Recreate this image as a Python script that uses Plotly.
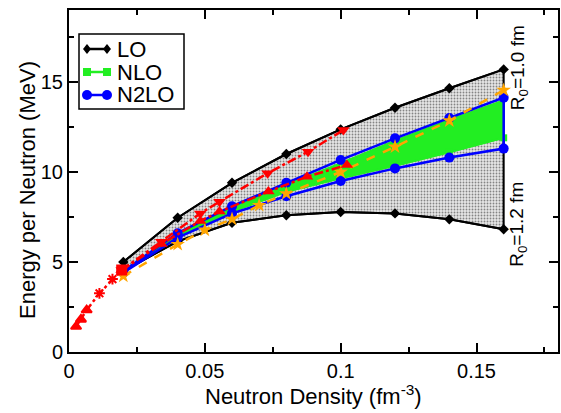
import plotly.graph_objects as go

# ---------------- data ----------------
density = [0.02, 0.04, 0.06, 0.08, 0.10, 0.12, 0.14, 0.16]

lo_upper = [5.0, 7.46, 9.4, 11.0, 12.37, 13.57, 14.65, 15.7]   # R0 = 1.0 fm
lo_lower = [4.5, 6.15, 7.18, 7.6, 7.78, 7.7, 7.37, 6.82]      # R0 = 1.2 fm

nlo_upper = [4.5, 6.55, 8.0, 9.3, 10.5, 11.75, 12.9, 14.0]
nlo_lower = [4.45, 6.4, 7.8, 8.9, 9.65, 10.35, 11.1, 11.9]

n2lo_upper = [4.5, 6.6, 8.1, 9.4, 10.67, 11.87, 13.0, 14.13]
n2lo_lower = [4.4, 6.35, 7.7, 8.65, 9.5, 10.2, 10.8, 11.3]

orange_x = [0.02, 0.04, 0.05, 0.06, 0.07, 0.08, 0.10, 0.12, 0.14, 0.16]
orange_y = [4.22, 5.98, 6.78, 7.38, 8.15, 8.8, 10.0, 11.4, 12.85, 14.55]

red_low_x = [0.0026, 0.0044, 0.0065, 0.0112, 0.016, 0.0194]
red_low_y = [1.41, 1.81, 2.33, 3.26, 4.05, 4.55]
red_low_sym = ["triangle-up", "triangle-up", "triangle-up", "asterisk-open", "asterisk-open", "square"]

red_up_x = [0.0194, 0.034, 0.0483, 0.0554, 0.0731, 0.088, 0.101]
red_up_y = [4.55, 6.13, 7.7, 8.35, 9.93, 11.13, 12.33]

red_dn_x = [0.0194, 0.034, 0.0483, 0.0554, 0.0734, 0.0876, 0.1023]
red_dn_y = [4.55, 6.0, 7.28, 7.8, 8.91, 9.74, 10.39]

x_ticks = [0, 0.05, 0.1, 0.15]
x_tick_text = ["0", "0.05", "0.1", "0.15"]
y_ticks = [0, 5, 10, 15]
y_tick_text = ["0", "5", "10", "15"]

legend_names = ["LO", "NLO", "N2LO"]
legend_colors = ["black", "#22ee22", "blue"]
legend_symbols = ["diamond", "square", "circle"]

# ---------------- figure ----------------
W, H = 561, 413
ML, MR, MT, MB = 69, 3, 10, 61
PW, PH = W - ML - MR, H - MT - MB


def px2paper(px, py):
    return (px - ML) / PW, (H - MB - py) / PH


fig = go.Figure()

# LO band (grey stipple) with black outline
fig.add_trace(go.Scatter(
    x=density + density[::-1], y=lo_upper + lo_lower[::-1],
    mode="lines", fill="toself",
    fillcolor="rgba(0,0,0,0)",
    fillpattern=dict(shape=".", fgcolor="#222222", bgcolor="#e6e6e6", size=3, solidity=0.3),
    line=dict(color="black", width=2), showlegend=False, hoverinfo="skip"))

# LO markers
for yy in (lo_upper, lo_lower):
    fig.add_trace(go.Scatter(x=density, y=yy, mode="lines+markers", showlegend=False,
                             line=dict(color="black", width=2),
                             marker=dict(symbol="diamond", size=8, color="black")))

# NLO band (green)
fig.add_trace(go.Scatter(
    x=density + density[::-1], y=nlo_upper + nlo_lower[::-1],
    mode="lines", fill="toself", fillcolor="#22ee22",
    line=dict(color="#22ee22", width=1.5), showlegend=False, hoverinfo="skip"))
fig.add_trace(go.Scatter(x=density, y=nlo_lower, mode="lines+markers", showlegend=False,
                         line=dict(color="#22ee22", width=2),
                         marker=dict(symbol="square", size=7, color="#22ee22")))

# N2LO outline (blue)
fig.add_trace(go.Scatter(
    x=density + density[::-1], y=n2lo_upper + n2lo_lower[::-1],
    mode="lines", line=dict(color="blue", width=2.5), showlegend=False, hoverinfo="skip"))
for yy in (n2lo_upper, n2lo_lower):
    fig.add_trace(go.Scatter(x=density, y=yy, mode="markers", showlegend=False,
                             marker=dict(symbol="circle", size=10, color="blue")))

# orange dashed
fig.add_trace(go.Scatter(x=orange_x, y=orange_y, mode="lines+markers", showlegend=False,
                         line=dict(color="orange", width=2.5, dash="dash"),
                         marker=dict(symbol="star", size=11, color="orange")))

# red dash-dot series
fig.add_trace(go.Scatter(x=red_low_x, y=red_low_y, mode="lines+markers", showlegend=False,
                         line=dict(color="red", width=2.5, dash="dashdot"),
                         marker=dict(symbol=red_low_sym, size=9, color="red",
                                     line=dict(color="red", width=2))))
fig.add_trace(go.Scatter(x=red_up_x, y=red_up_y, mode="lines+markers", showlegend=False,
                         line=dict(color="red", width=2.5, dash="dashdot"),
                         marker=dict(symbol="triangle-down", size=11, color="red")))
fig.add_trace(go.Scatter(x=red_dn_x, y=red_dn_y, mode="lines+markers", showlegend=False,
                         line=dict(color="red", width=2.5, dash="dashdot"),
                         marker=dict(symbol="triangle-up", size=11, color="red")))

font = "Liberation Sans, Arial, sans-serif"

fig.add_annotation(x=0.1655, y=15.8, text="R<sub>0</sub>=1.0 fm", showarrow=False,
                   textangle=-90, font=dict(size=19, color="black", family=font))
fig.add_annotation(x=0.1655, y=7.1, text="R<sub>0</sub>=1.2 fm", showarrow=False,
                   textangle=-90, font=dict(size=19, color="black", family=font))

# axis titles
tx, ty = px2paper(313, 395)
fig.add_annotation(xref="paper", yref="paper", x=tx, y=ty, xanchor="center", yanchor="middle",
                   text="Neutron Density (fm<sup>-3</sup>)", showarrow=False,
                   font=dict(size=22, color="black", family=font))
tx, ty = px2paper(27, 190)
fig.add_annotation(xref="paper", yref="paper", x=tx, y=ty, xanchor="center", yanchor="middle",
                   text="Energy per Neutron (MeV)", showarrow=False, textangle=-90,
                   font=dict(size=22, color="black", family=font))

# ---- legend drawn as a framed box ----
x0, y0 = px2paper(79, 34)
x1, y1 = px2paper(184, 109)
fig.add_shape(type="rect", xref="paper", yref="paper", x0=x0, y0=y0, x1=x1, y1=y1,
              line=dict(color="black", width=1.5), fillcolor="white", layer="above")
for i, (name, col, sym) in enumerate(zip(legend_names, legend_colors, legend_symbols)):
    cy = 49 + 23 * i
    lx0, ly = px2paper(87, cy)
    lx1, _ = px2paper(107, cy)
    fig.add_shape(type="line", xref="paper", yref="paper", x0=lx0, y0=ly, x1=lx1, y1=ly,
                  line=dict(color=col, width=2.5), layer="above")
    for mx in (87, 107):
        if sym == "circle":
            a0, b0 = px2paper(mx - 5, cy - 5)
            a1, b1 = px2paper(mx + 5, cy + 5)
            fig.add_shape(type="circle", xref="paper", yref="paper", x0=a0, y0=b0, x1=a1, y1=b1,
                          fillcolor=col, line=dict(color=col, width=0), layer="above")
        elif sym == "square":
            a0, b0 = px2paper(mx - 4, cy - 4)
            a1, b1 = px2paper(mx + 4, cy + 4)
            fig.add_shape(type="rect", xref="paper", yref="paper", x0=a0, y0=b0, x1=a1, y1=b1,
                          fillcolor=col, line=dict(color=col, width=0), layer="above")
        else:
            pts = [px2paper(mx, cy - 5), px2paper(mx + 4, cy), px2paper(mx, cy + 5), px2paper(mx - 4, cy)]
            path = "M " + " L ".join(f"{a},{b}" for a, b in pts) + " Z"
            fig.add_shape(type="path", xref="paper", yref="paper", path=path,
                          fillcolor=col, line=dict(color=col, width=0), layer="above")
    tx, ty = px2paper(115, cy)
    fig.add_annotation(xref="paper", yref="paper", x=tx, y=ty, xanchor="left", yanchor="middle",
                       text=name, showarrow=False, font=dict(size=22, color="black", family=font))

axis_common = dict(showline=True, linecolor="black", linewidth=2, mirror="allticks",
                   ticks="inside", ticklen=9, tickwidth=1.5, tickcolor="black",
                   showgrid=False, zeroline=False, automargin=False,
                   tickfont=dict(size=20, color="black", family=font))

fig.update_xaxes(range=[0, 0.18], tickvals=x_ticks, ticktext=x_tick_text,
                 minor=dict(ticks="inside", ticklen=5, dtick=0.025, tick0=0, tickcolor="black", tickwidth=1.5),
                 **axis_common)
fig.update_yaxes(range=[0, 19], tickvals=y_ticks, ticktext=y_tick_text,
                 minor=dict(ticks="inside", ticklen=5, dtick=2.5, tick0=0, tickcolor="black", tickwidth=1.5),
                 **axis_common)

fig.update_layout(
    width=W, height=H,
    margin=dict(l=ML, r=MR, t=MT, b=MB),
    plot_bgcolor="white", paper_bgcolor="white",
    font=dict(family=font, color="black"),
    showlegend=False,
)

fig.write_html("out.html", config={"displayModeBar": False},
               post_script="document.body.style.margin='0';")
